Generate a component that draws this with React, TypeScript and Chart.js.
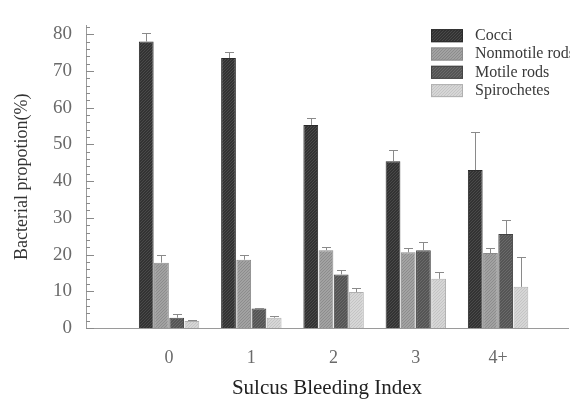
import React, { useEffect, useRef } from "react";
import { Chart, registerables } from "chart.js";

Chart.register(...registerables);

const categories = ["0", "1", "2", "3", "4+"];
const seriesNames = ["Cocci", "Nonmotile rods", "Motile rods", "Spirochetes"];
const cocci = [78.0, 73.5, 55.3, 45.4, 43.0];
const cocciErr = [2.2, 1.6, 2.0, 3.2, 10.5];
const nonmotile = [17.8, 18.6, 21.2, 20.6, 20.4];
const nonmotileErr = [2.1, 1.3, 0.9, 1.2, 1.4];
const motile = [2.8, 5.3, 14.6, 21.2, 25.6];
const motileErr = [0.9, 0.2, 1.2, 2.3, 3.8];
const spirochetes = [1.9, 2.8, 9.8, 13.4, 11.2];
const spirochetesErr = [0.4, 0.6, 1.1, 1.8, 8.2];
const yTicks = [0, 10, 20, 30, 40, 50, 60, 70, 80];

const FONT = "'Liberation Serif', 'DejaVu Serif', serif";

function makePattern(bg: string, line: string) {
  const c = document.createElement("canvas");
  c.width = 6;
  c.height = 6;
  const g = c.getContext("2d")!;
  g.fillStyle = bg;
  g.fillRect(0, 0, 6, 6);
  g.strokeStyle = line;
  g.lineWidth = 1;
  g.beginPath();
  for (let k = -6; k <= 12; k += 3) {
    g.moveTo(k, 6);
    g.lineTo(k + 6, 0);
  }
  g.stroke();
  return g.createPattern(c, "repeat")!;
}

export default function App() {
  const ref = useRef<HTMLCanvasElement>(null);
  useEffect(() => {
    const canvas = ref.current!;
    const fills = [
      makePattern("#333333", "#4a4a4a"),
      makePattern("#a2a2a2", "#8c8c8c"),
      makePattern("#555555", "#6a6a6a"),
      makePattern("#d6d6d6", "#c4c4c4"),
    ];
    const borders = ["#2a2a2a", "#8a8a8a", "#444444", "#b0b0b0"];
    const values = [cocci, nonmotile, motile, spirochetes];
    const errs = [cocciErr, nonmotileErr, motileErr, spirochetesErr];

    const errorBars = {
      id: "errorBars",
      afterDatasetsDraw(chart: any) {
        const ctx = chart.ctx;
        const ys = chart.scales.y;
        ctx.save();
        ctx.strokeStyle = "#8a8a8a";
        ctx.lineWidth = 1;
        values.forEach((vals, i) => {
          const meta = chart.getDatasetMeta(i);
          meta.data.forEach((el: any, j: number) => {
            const x = Math.round(el.x) + 0.5;
            const yTop = ys.getPixelForValue(vals[j]);
            const yE = Math.round(ys.getPixelForValue(vals[j] + errs[i][j])) + 0.5;
            ctx.beginPath();
            ctx.moveTo(x, yTop);
            ctx.lineTo(x, yE);
            ctx.moveTo(x - 4.5, yE);
            ctx.lineTo(x + 4.5, yE);
            ctx.stroke();
          });
        });
        ctx.restore();
      },
    };

    const axisTicks = {
      id: "axisTicks",
      afterDraw(chart: any) {
        const ctx = chart.ctx;
        const ys = chart.scales.y;
        const left = chart.chartArea.left;
        ctx.save();
        ctx.strokeStyle = "#8a8a8a";
        ctx.lineWidth = 1;
        for (let v = 0; v <= 82; v += 2) {
          const y = Math.round(ys.getPixelForValue(v)) + 0.5;
          const len = v % 10 === 0 ? 8 : 4;
          ctx.beginPath();
          ctx.moveTo(left, y);
          ctx.lineTo(left + len, y);
          ctx.stroke();
        }
        ctx.restore();
      },
    };

    const legendBox = {
      id: "legendBox",
      afterDraw(chart: any) {
        const ctx = chart.ctx;
        ctx.save();
        const rowY = [35.7, 54, 72.3, 90.6];
        seriesNames.forEach((name, i) => {
          const y = rowY[i];
          ctx.fillStyle = fills[i];
          ctx.fillRect(431, y - 6.5, 32, 13);
          ctx.strokeStyle = borders[i];
          ctx.lineWidth = 1;
          ctx.strokeRect(431.5, y - 6, 31, 12);
          ctx.fillStyle = "#3a3a3a";
          ctx.font = `16px ${FONT}`;
          ctx.textBaseline = "middle";
          ctx.textAlign = "left";
          ctx.fillText(name, 475, y);
        });
        ctx.restore();
      },
    };

    const chart = new Chart(canvas, {
      type: "bar",
      data: {
        datasets: values.map((vals, i) => ({
          label: seriesNames[i],
          data: vals.map((v, j) => ({ x: j, y: v })),
          backgroundColor: fills[i],
          borderColor: borders[i],
          borderWidth: 1,
          categoryPercentage: 0.74,
          barPercentage: 0.97,
        })),
      },
      options: {
        responsive: false,
        animation: false,
        layout: { padding: { top: 8, right: 2, left: 0, bottom: 0 } },
        plugins: { legend: { display: false }, tooltip: { enabled: false } },
        scales: {
          x: {
            type: "linear",
            offset: false,
            min: -1.01,
            max: 4.85,
            grid: { display: false, drawTicks: false, offset: false },
            border: { display: true, color: "#9a9a9a", width: 1 },
            afterBuildTicks: (s: any) => {
              s.ticks = categories.map((_, i) => ({ value: i }));
            },
            afterFit: (s: any) => {
              s.height = 74;
            },
            ticks: {
              padding: 19,
              color: "#6a6a6a",
              font: { family: FONT, size: 18 },
              callback: (v: any) => categories[v as number] ?? "",
            },
            title: {
              display: true,
              text: "Sulcus Bleeding Index",
              color: "#222222",
              font: { family: FONT, size: 21 },
              padding: { top: 0, bottom: 1 },
            },
          },
          y: {
            min: 0,
            max: 82.4,
            grid: { display: false, drawTicks: false },
            border: { display: true, color: "#9a9a9a", width: 1 },
            afterBuildTicks: (s: any) => {
              s.ticks = yTicks.map((v) => ({ value: v }));
            },
            afterFit: (s: any) => {
              s.width = 86;
            },
            ticks: {
              padding: 14,
              color: "#6a6a6a",
              font: { family: FONT, size: 19 },
            },
            title: {
              display: true,
              text: "Bacterial propotion(%)",
              color: "#333333",
              font: { family: FONT, size: 18 },
              padding: { top: 11, bottom: 0 },
            },
          },
        },
      },
      plugins: [errorBars, axisTicks, legendBox],
    } as any);
    return () => chart.destroy();
  }, []);
  return (
    <div style={{ position: "absolute", left: 0, top: 0, width: 570, height: 402, background: "#fff" }}>
      <canvas ref={ref} width={570} height={402} />
    </div>
  );
}
